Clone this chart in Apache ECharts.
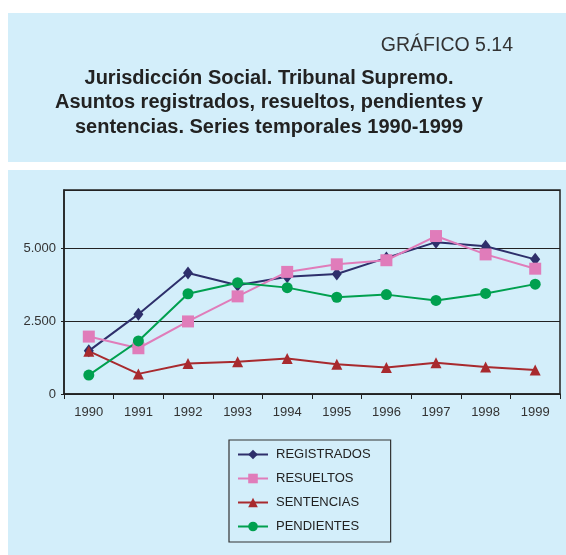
<!DOCTYPE html>
<html>
<head>
<meta charset="utf-8">
<title>Gráfico 5.14</title>
<script src="https://cdn.jsdelivr.net/npm/echarts@6/dist/echarts.min.js"></script>
<style>
  html, body { margin: 0; padding: 0; background: #fff; }
  #chart { width: 566px; height: 555px; }
</style>
</head>
<body>
<div id="chart"></div>
<script>
// datos
var years = ['1990', '1991', '1992', '1993', '1994', '1995', '1996', '1997', '1998', '1999'];
var registrados = [1480, 2740, 4150, 3730, 4020, 4120, 4670, 5210, 5070, 4620];
var resueltos = [1970, 1570, 2490, 3350, 4190, 4450, 4590, 5420, 4790, 4300];
var sentencias = [1470, 690, 1050, 1110, 1220, 1020, 910, 1070, 930, 820];
var pendientes = [650, 1820, 3440, 3820, 3650, 3320, 3410, 3210, 3450, 3770];

var chart = echarts.init(document.getElementById('chart'));

function serie(name, data, color, symbol, size) {
  return {
    name: name,
    type: 'line',
    data: data,
    symbol: symbol,
    symbolSize: size,
    lineStyle: { color: color, width: 2 },
    itemStyle: { color: color },
    emphasis: { disabled: true },
    animation: false
  };
}

var option = {
  backgroundColor: '#fff',
  animation: false,
  textStyle: { fontFamily: 'Liberation Sans, Arial, sans-serif' },
  graphic: [
    { type: 'rect', left: 8, top: 13, shape: { width: 558, height: 149 }, style: { fill: '#d3eefa' }, z: -10 },
    { type: 'rect', left: 8, top: 170, shape: { width: 558, height: 385 }, style: { fill: '#d3eefa' }, z: -10 },
    { type: 'text', right: 53, top: 36, style: { text: 'GRÁFICO 5.14', font: '19.5px Liberation Sans, Arial, sans-serif', fill: '#333' } },
    {
      type: 'text', x: 269, y: 66,
      style: {
        text: 'Jurisdicción Social. Tribunal Supremo.\nAsuntos registrados, resueltos, pendientes y\nsentencias. Series temporales 1990-1999',
        font: 'bold 20px Liberation Sans, Arial, sans-serif',
        fill: '#222', align: 'center', verticalAlign: 'top', lineHeight: 24.5
      }
    }
  ],
  grid: { left: 64, top: 190, width: 496, height: 204, show: true, borderColor: '#222', borderWidth: 1.5, backgroundColor: 'transparent' },
  legend: {
    orient: 'vertical',
    left: 229, top: 440,
    itemWidth: 30, itemHeight: 12, itemGap: 11,
    padding: [8, 20, 9, 8],
    borderColor: '#333', borderWidth: 1.2,
    textStyle: { fontSize: 13, color: '#222', padding: [0, 0, 0, 3] },
    data: ['REGISTRADOS', 'RESUELTOS', 'SENTENCIAS', 'PENDIENTES']
  },
  xAxis: {
    type: 'category',
    data: years,
    boundaryGap: true,
    axisLine: { lineStyle: { color: '#222', width: 1.5 } },
    axisTick: { show: true, length: 5, inside: false, lineStyle: { color: '#222' } },
    axisLabel: { color: '#333', fontSize: 13, margin: 12 }
  },
  yAxis: {
    type: 'value',
    min: 0, max: 7000, interval: 2500,
    axisLine: { show: true, lineStyle: { color: '#222', width: 1.5 } },
    axisTick: { show: true, length: 3, lineStyle: { color: '#222' } },
    axisLabel: {
      color: '#333', fontSize: 13, margin: 8, showMaxLabel: false,
      formatter: function (v) { return v === 0 ? '0' : (v / 1000).toFixed(3); }
    },
    splitLine: { show: true, lineStyle: { color: '#222', width: 1.2 } }
  },
  series: [
    serie('REGISTRADOS', registrados, '#2e2f6b', 'diamond', [10, 13]),
    serie('RESUELTOS', resueltos, '#e07cba', 'rect', 12),
    serie('SENTENCIAS', sentencias, '#a82a2e', 'triangle', 11),
    serie('PENDIENTES', pendientes, '#00a04f', 'circle', 11)
  ]
};

chart.setOption(option);
</script>
</body>
</html>
